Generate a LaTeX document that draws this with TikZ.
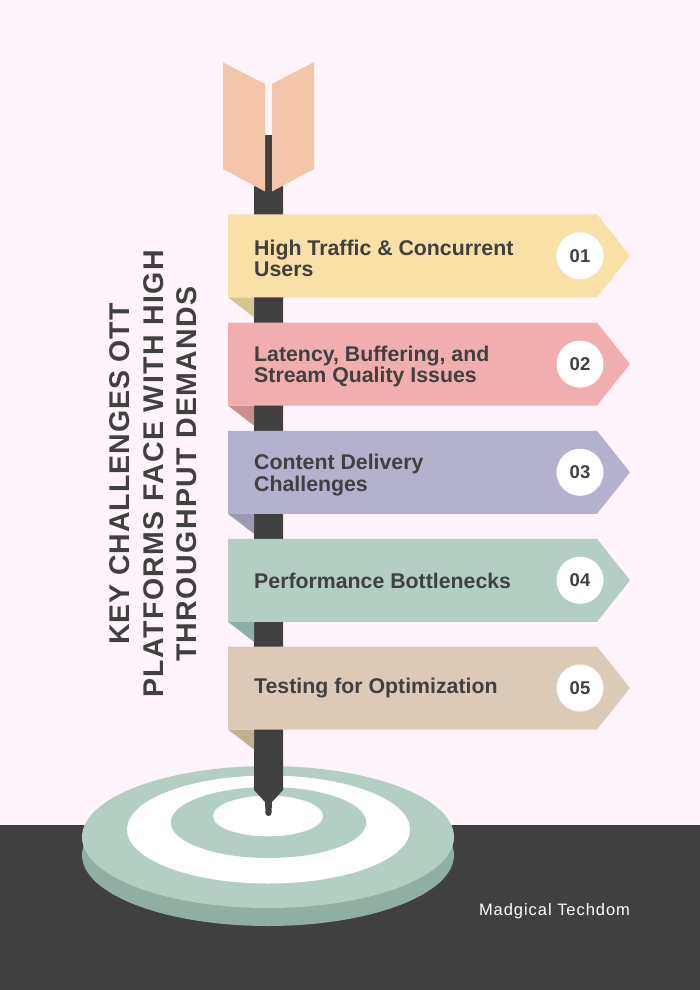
\documentclass[tikz,border=0pt]{standalone}
\usepackage{fontspec}
\setmainfont{Liberation Sans}
\newfontfamily\titlefont[LetterSpace=5]{Liberation Sans}
\newfontfamily\titlefontb[LetterSpace=3.2]{Liberation Sans}
\newfontfamily\brandfont[LetterSpace=5.8]{Liberation Sans}
\definecolor{bgc}{HTML}{FFF4FB}
\definecolor{darkc}{HTML}{404040}
\definecolor{feather}{HTML}{F3C5A9}
\definecolor{yel}{HTML}{F9E0A7}
\definecolor{yeld}{HTML}{D8C48E}
\definecolor{pnk}{HTML}{F1AEAE}
\definecolor{pnkd}{HTML}{C98F8F}
\definecolor{pur}{HTML}{B4B1CF}
\definecolor{purd}{HTML}{9D99AE}
\definecolor{grn}{HTML}{B3CFC3}
\definecolor{grnd}{HTML}{8AB0A5}
\definecolor{tan}{HTML}{DCCAB6}
\definecolor{tand}{HTML}{C4AF90}
\definecolor{basec}{HTML}{8FAFA2}
\tikzset{
 lbl/.style={anchor=west,text=darkc,font=\fontsize{21.3}{21.5}\selectfont\bfseries,align=left,inner sep=0pt},
 num/.style={circle,fill=white,minimum size=47pt,inner sep=0pt,text=darkc,font=\fontsize{18.5}{21}\selectfont\bfseries},
 titletext/.style={rotate=90,text=darkc,font=\fontsize{28.5}{33.5}\titlefont\selectfont\bfseries,align=center,inner sep=0pt},
}
\newcommand{\banner}[6]{% top y, colour, fold colour, text, number, text y offset
 \fill[#3] (228,#1+83) -- (254,#1+83) -- (254,#1+103) -- cycle;
 \fill[#2] (228,#1) -- (597,#1) -- (630,#1+41.5) -- (597,#1+83) -- (228,#1+83) -- cycle;
 \node[lbl] (t#5) at (254,#1+#6) {#4};
 \node[num] (n#5) at (580,#1+41.5) {#5};
}
\begin{document}
\begin{tikzpicture}[x=1pt,y=-1pt]
\useasboundingbox (0,0) rectangle (700,990);
\fill[bgc] (0,0) rectangle (700,990);
\fill[darkc] (0,824.5) rectangle (700,990);
% target
\fill[basec] (268,855) ellipse [x radius=186,y radius=71];
\fill[grn] (268,837) ellipse [x radius=186,y radius=71];
\fill[white] (268.5,829.5) ellipse [x radius=141.5,y radius=54];
\fill[grn] (268.5,822.5) ellipse [x radius=97.7,y radius=35.5];
\fill[white] (268,816) ellipse [x radius=55,y radius=20.3];
% shaft
\fill[darkc] (254,186) -- (283,186) -- (283,790) -- (272,802) -- (271.5,813)
  arc[start angle=0,end angle=180,radius=3] -- (265,802) -- (254,790) -- cycle;
\fill[darkc] (265,135) rectangle (272,192);
% feathers
\fill[feather] (223,62.5) -- (265,84) -- (265,191.5) -- (223,169) -- cycle;
\fill[feather] (314,62) -- (272,84) -- (272,191.5) -- (314,169) -- cycle;
% banners
\banner{214.3}{yel}{yeld}{High Traffic \& Concurrent\\Users}{01}{44}
\banner{322.6}{pnk}{pnkd}{Latency, Buffering, and\\Stream Quality Issues}{02}{44}
\banner{430.8}{pur}{purd}{Content Delivery\\Challenges}{03}{44}
\banner{538.8}{grn}{grnd}{Performance Bottlenecks}{04}{42}
\banner{646.5}{tan}{tand}{Testing for Optimization}{05}{42}
% title
\node[titletext] (title) at (153.5,474) {{\titlefontb\bfseries KEY CHALLENGES OTT}\\PLATFORMS FACE WITH HIGH\\THROUGHPUT DEMANDS};
\node[text=white,font=\fontsize{16.5}{18}\brandfont\selectfont,inner sep=0pt] (brand) at (554.5,911.5) {Madgical Techdom};
\end{tikzpicture}
\end{document}
